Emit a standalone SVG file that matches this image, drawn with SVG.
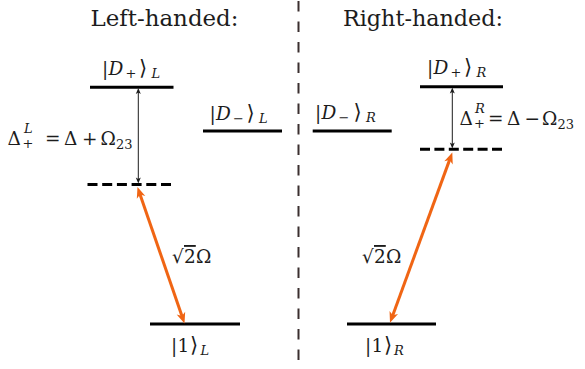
<svg xmlns="http://www.w3.org/2000/svg" width="585" height="369" viewBox="0 0 585 369">
<style>
  text { font-family: "DejaVu Serif", "Liberation Serif", "Noto Serif", serif; fill: #1c1c1c; }
  .title { font-size: 22px; }
  .m { font-size: 18.5px; }
  .i { font-style: italic; }
  .s { font-size: 13px; }
  .b { font-size: 21px; }
  .lvl { stroke: #000; stroke-width: 3; fill: none; }
  .dash { stroke: #000; stroke-width: 3; fill: none; stroke-dasharray: 10 4.7; }
  .blk { stroke: #1c1c1c; stroke-width: 1; fill: none; marker-start: url(#ah); marker-end: url(#ah); }
  .org { stroke: #f06514; stroke-width: 3; fill: none; marker-start: url(#oh); marker-end: url(#oh); }
</style>
<defs>
  <marker id="oh" viewBox="-12 -6 13 12" refX="-6" refY="0" markerUnits="userSpaceOnUse" markerWidth="13" markerHeight="12" orient="auto-start-reverse">
    <path d="M0,0 L-11,-4.5 L-8,0 L-11,4.5 Z" fill="#f06514"/>
  </marker>
  <marker id="ah" viewBox="-7 -4 8 8" refX="-3" refY="0" markerUnits="userSpaceOnUse" markerWidth="8" markerHeight="8" orient="auto-start-reverse">
    <path d="M0,0 L-6,-2.5 L-4.5,0 L-6,2.5 Z" fill="#1c1c1c"/>
  </marker>
</defs>

<line id="divider" x1="298.5" y1="1" x2="298.5" y2="369" stroke="#3a2f2f" stroke-width="2" stroke-dasharray="10.5 10"/>

<g id="title-left"><text class="title" x="90.5" y="26" textLength="148" lengthAdjust="spacingAndGlyphs">Left-handed:</text></g>
<g id="title-right"><text class="title" x="343" y="26" textLength="160" lengthAdjust="spacingAndGlyphs">Right-handed:</text></g>

<!-- Left-handed levels -->
<g id="Dplus-L">
  <line class="lvl" x1="90" y1="87.3" x2="173.5" y2="87.3"/>
  <text class="m" y="75"><tspan x="102">|</tspan><tspan class="i" x="108.5">D</tspan><tspan class="s" x="125.5" y="78">+</tspan><tspan class="b" x="139" y="75">⟩</tspan><tspan class="i s" x="151.5" y="78">L</tspan></text>
</g>
<g id="Dminus-L">
  <line class="lvl" x1="203" y1="131" x2="282" y2="131"/>
  <text class="m" y="120"><tspan x="209.5">|</tspan><tspan class="i" x="216">D</tspan><tspan class="s" x="233" y="123">−</tspan><tspan class="b" x="246.5" y="120">⟩</tspan><tspan class="i s" x="259" y="123">L</tspan></text>
</g>
<g id="virtual-L">
  <line class="dash" x1="87.5" y1="184.5" x2="171" y2="184.5"/>
</g>
<g id="ground-L">
  <line class="lvl" x1="150" y1="324" x2="240" y2="324"/>
  <text class="m" y="352"><tspan x="171">|</tspan><tspan x="177.5">1</tspan><tspan class="b" x="190">⟩</tspan><tspan class="i s" x="200.5" y="355">L</tspan></text>
</g>

<!-- Right-handed levels -->
<g id="Dplus-R">
  <line class="lvl" x1="420" y1="86.7" x2="503" y2="86.7"/>
  <text class="m" y="74"><tspan x="427">|</tspan><tspan class="i" x="433.5">D</tspan><tspan class="s" x="450.5" y="77">+</tspan><tspan class="b" x="464" y="74">⟩</tspan><tspan class="i s" x="476.5" y="77">R</tspan></text>
</g>
<g id="Dminus-R">
  <line class="lvl" x1="312.7" y1="131" x2="391.7" y2="131"/>
  <text class="m" y="119"><tspan x="315">|</tspan><tspan class="i" x="321.5">D</tspan><tspan class="s" x="338.5" y="122">−</tspan><tspan class="b" x="353.5" y="119">⟩</tspan><tspan class="i s" x="366" y="122">R</tspan></text>
</g>
<g id="virtual-R">
  <line class="dash" x1="420" y1="149.3" x2="502" y2="149.3" style="stroke-dasharray:10 4.4"/>
</g>
<g id="ground-R">
  <line class="lvl" x1="347" y1="324" x2="436" y2="324"/>
  <text class="m" y="352"><tspan x="365">|</tspan><tspan x="371.5">1</tspan><tspan class="b" x="384">⟩</tspan><tspan class="i s" x="394" y="355">R</tspan></text>
</g>

<!-- Connectors -->
<g id="connectors">
  <line class="blk" x1="138.3" y1="91" x2="138.3" y2="180.5"/>
  <line class="blk" x1="452.3" y1="90.5" x2="452.3" y2="145.5"/>
  <line class="org" x1="139.45" y1="192.67" x2="182.55" y2="317.83"/>
  <line class="org" x1="450.24" y1="158.14" x2="392.06" y2="317.16"/>
</g>

<!-- Labels -->
<g id="label-detuning-L">
  <text class="m" y="144.5"><tspan x="7.5">Δ</tspan><tspan x="45">=</tspan><tspan x="64">Δ</tspan><tspan x="82">+</tspan><tspan x="100.5">Ω</tspan><tspan class="s" x="116" y="148.5">23</tspan></text>
  <text class="s i" x="24" y="133">L</text>
  <text class="s" x="22.5" y="148">+</text>
</g>
<g id="label-detuning-R">
  <text class="m" y="124.5"><tspan x="459.5">Δ</tspan><tspan x="488">=</tspan><tspan x="507">Δ</tspan><tspan x="524.5">−</tspan><tspan x="542">Ω</tspan><tspan class="s" x="557.5" y="128.5">23</tspan></text>
  <text class="s i" x="475" y="113">R</text>
  <text class="s" x="474" y="128">+</text>
</g>
<g id="label-rabi-L">
  <text class="m" y="263"><tspan x="172">√</tspan><tspan x="184" text-decoration="overline">2</tspan><tspan x="196">Ω</tspan></text>
</g>
<g id="label-rabi-R">
  <text class="m" y="263"><tspan x="362">√</tspan><tspan x="374" text-decoration="overline">2</tspan><tspan x="386">Ω</tspan></text>
</g>
</svg>
